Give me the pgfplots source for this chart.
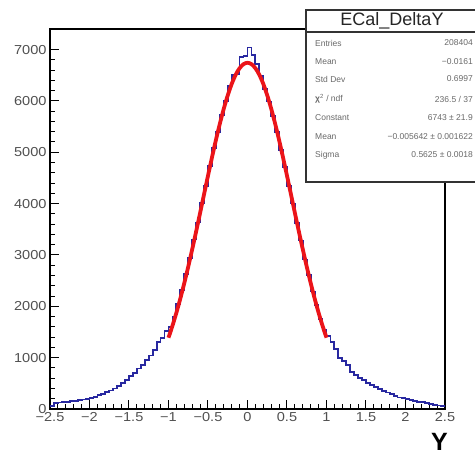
\documentclass[border=0pt]{standalone}
\usepackage{pgfplots}
\pgfplotsset{compat=1.18}
\usepackage{fontspec}
\setmainfont{Liberation Sans}
\newfontfamily\tickfont{Liberation Sans}[FakeStretch=1.12]
\definecolor{histblue}{RGB}{40,40,160}
\definecolor{fitred}{RGB}{235,20,25}
\definecolor{labgray}{RGB}{80,80,80}
\definecolor{statgray}{RGB}{105,105,105}
\begin{document}
\begin{tikzpicture}[x=1pt,y=1pt]
\useasboundingbox (0,0) rectangle (475,455);
\begin{axis}[
  at={(50pt,46pt)}, anchor=south west,
  scale only axis, width=395pt, height=380pt,
  xmin=-2.5, xmax=2.5, ymin=0, ymax=7400,
  axis line style={line width=1.3pt},
  tick align=inside, xtick pos=bottom, ytick pos=left,
  xtick={-2.5,-2,-1.5,-1,-0.5,0,0.5,1,1.5,2,2.5},
  xticklabels={−2.5,−2,−1.5,−1,−0.5,0,0.5,1,1.5,2,2.5},
  ytick={0,1000,2000,3000,4000,5000,6000,7000},
  yticklabels={0,1000,2000,3000,4000,5000,6000,7000},
  scaled y ticks=false,
  minor x tick num=4, minor y tick num=4,
  major tick length=9pt, minor tick length=4.5pt,
  every tick/.style={black, line width=1pt},
  ticklabel style={font=\tickfont\fontsize{13}{13}\selectfont, text=labgray},
  xlabel={Y},
  xlabel style={at={(axis description cs:1,0)}, anchor=north east, inner sep=0pt, xshift=3pt, yshift=-24pt, font=\bfseries\fontsize{25}{25}\selectfont},
]
\addplot[const plot, histblue, line width=1.8pt] coordinates {
(-2.50,60) (-2.45,110) (-2.40,125) (-2.35,130) (-2.30,140) (-2.25,150) (-2.20,160) (-2.15,175) (-2.10,185) (-2.05,200)
(-2.00,215) (-1.95,240) (-1.90,270) (-1.85,290) (-1.80,330) (-1.75,360) (-1.70,400) (-1.65,450) (-1.60,510) (-1.55,570)
(-1.50,640) (-1.45,700) (-1.40,790) (-1.35,860) (-1.30,950) (-1.25,1040) (-1.20,1150) (-1.15,1300) (-1.10,1380) (-1.05,1520)
(-1.00,1600) (-0.95,1790) (-0.90,2050) (-0.85,2320) (-0.80,2630) (-0.75,2940) (-0.70,3300) (-0.65,3630) (-0.60,4010) (-0.55,4350)
(-0.50,4730) (-0.45,5080) (-0.40,5390) (-0.35,5720) (-0.30,6000) (-0.25,6300) (-0.20,6500) (-0.15,6520) (-0.10,6850) (-0.05,6880)
(0.00,7040) (0.05,6900) (0.10,6720) (0.15,6480) (0.20,6230) (0.25,5990) (0.30,5700) (0.35,5400) (0.40,5050) (0.45,4720)
(0.50,4340) (0.55,4000) (0.60,3620) (0.65,3280) (0.70,2910) (0.75,2610) (0.80,2290) (0.85,2030) (0.90,1750) (0.95,1540)
(1.00,1420) (1.05,1300) (1.10,1170) (1.15,1000) (1.20,940) (1.25,850) (1.30,720) (1.35,660) (1.40,610) (1.45,560)
(1.50,500) (1.55,470) (1.60,430) (1.65,390) (1.70,350) (1.75,320) (1.80,290) (1.85,260) (1.90,225) (1.95,210)
(2.00,190) (2.05,170) (2.10,160) (2.15,140) (2.20,135) (2.25,115) (2.30,95) (2.35,85) (2.40,70) (2.45,55)
(2.50,55)
};
\addplot[smooth, fitred, line width=3.8pt] coordinates {
(-1.00,1388) (-0.95,1620) (-0.90,1875) (-0.85,2152) (-0.80,2452) (-0.75,2772) (-0.70,3109) (-0.65,3458) (-0.60,3817) (-0.55,4181)
(-0.50,4543) (-0.45,4896) (-0.40,5237) (-0.35,5556) (-0.30,5849) (-0.25,6109) (-0.20,6330) (-0.15,6508) (-0.10,6637) (-0.05,6716)
(0.00,6743) (0.05,6716) (0.10,6637) (0.15,6508) (0.20,6330) (0.25,6109) (0.30,5849) (0.35,5556) (0.40,5237) (0.45,4896)
(0.50,4543) (0.55,4181) (0.60,3817) (0.65,3458) (0.70,3109) (0.75,2772) (0.80,2452) (0.85,2152) (0.90,1875) (0.95,1620)
(1.00,1388)
};
\end{axis}
\draw[line width=1.4pt, draw=black!80, fill=white] (306,273) rectangle (478,445);
\draw[line width=1.2pt, black!80] (306,423) -- (478,423);
\node[font=\fontsize{18}{18}\selectfont, text=black!85] at (392,434) {ECal\_DeltaY};
\begin{scope}[every node/.style={font=\fontsize{8.5}{9}\selectfont, text=statgray, inner sep=0pt}]
\node[anchor=west] at (315,412) {Entries};
\node[anchor=east] at (473,412) {208404};
\node[anchor=west] at (315,393) {Mean};
\node[anchor=east] at (473,393) {−0.0161};
\node[anchor=west] at (315,376) {Std Dev};
\node[anchor=east] at (473,376) {0.6997};
\node[anchor=west] at (315,356) {\textbf{χ}\textsuperscript{2} / ndf};
\node[anchor=east] at (473,356) {236.5 / 37};
\node[anchor=west] at (315,337) {Constant};
\node[anchor=east] at (473,337) {6743 ± 21.9};
\node[anchor=west] at (315,318) {Mean};
\node[anchor=east] at (473,318) {−0.005642 ± 0.001622};
\node[anchor=west] at (315,300) {Sigma};
\node[anchor=east] at (473,300) {0.5625 ± 0.0018};
\end{scope}
\end{tikzpicture}
\end{document}
